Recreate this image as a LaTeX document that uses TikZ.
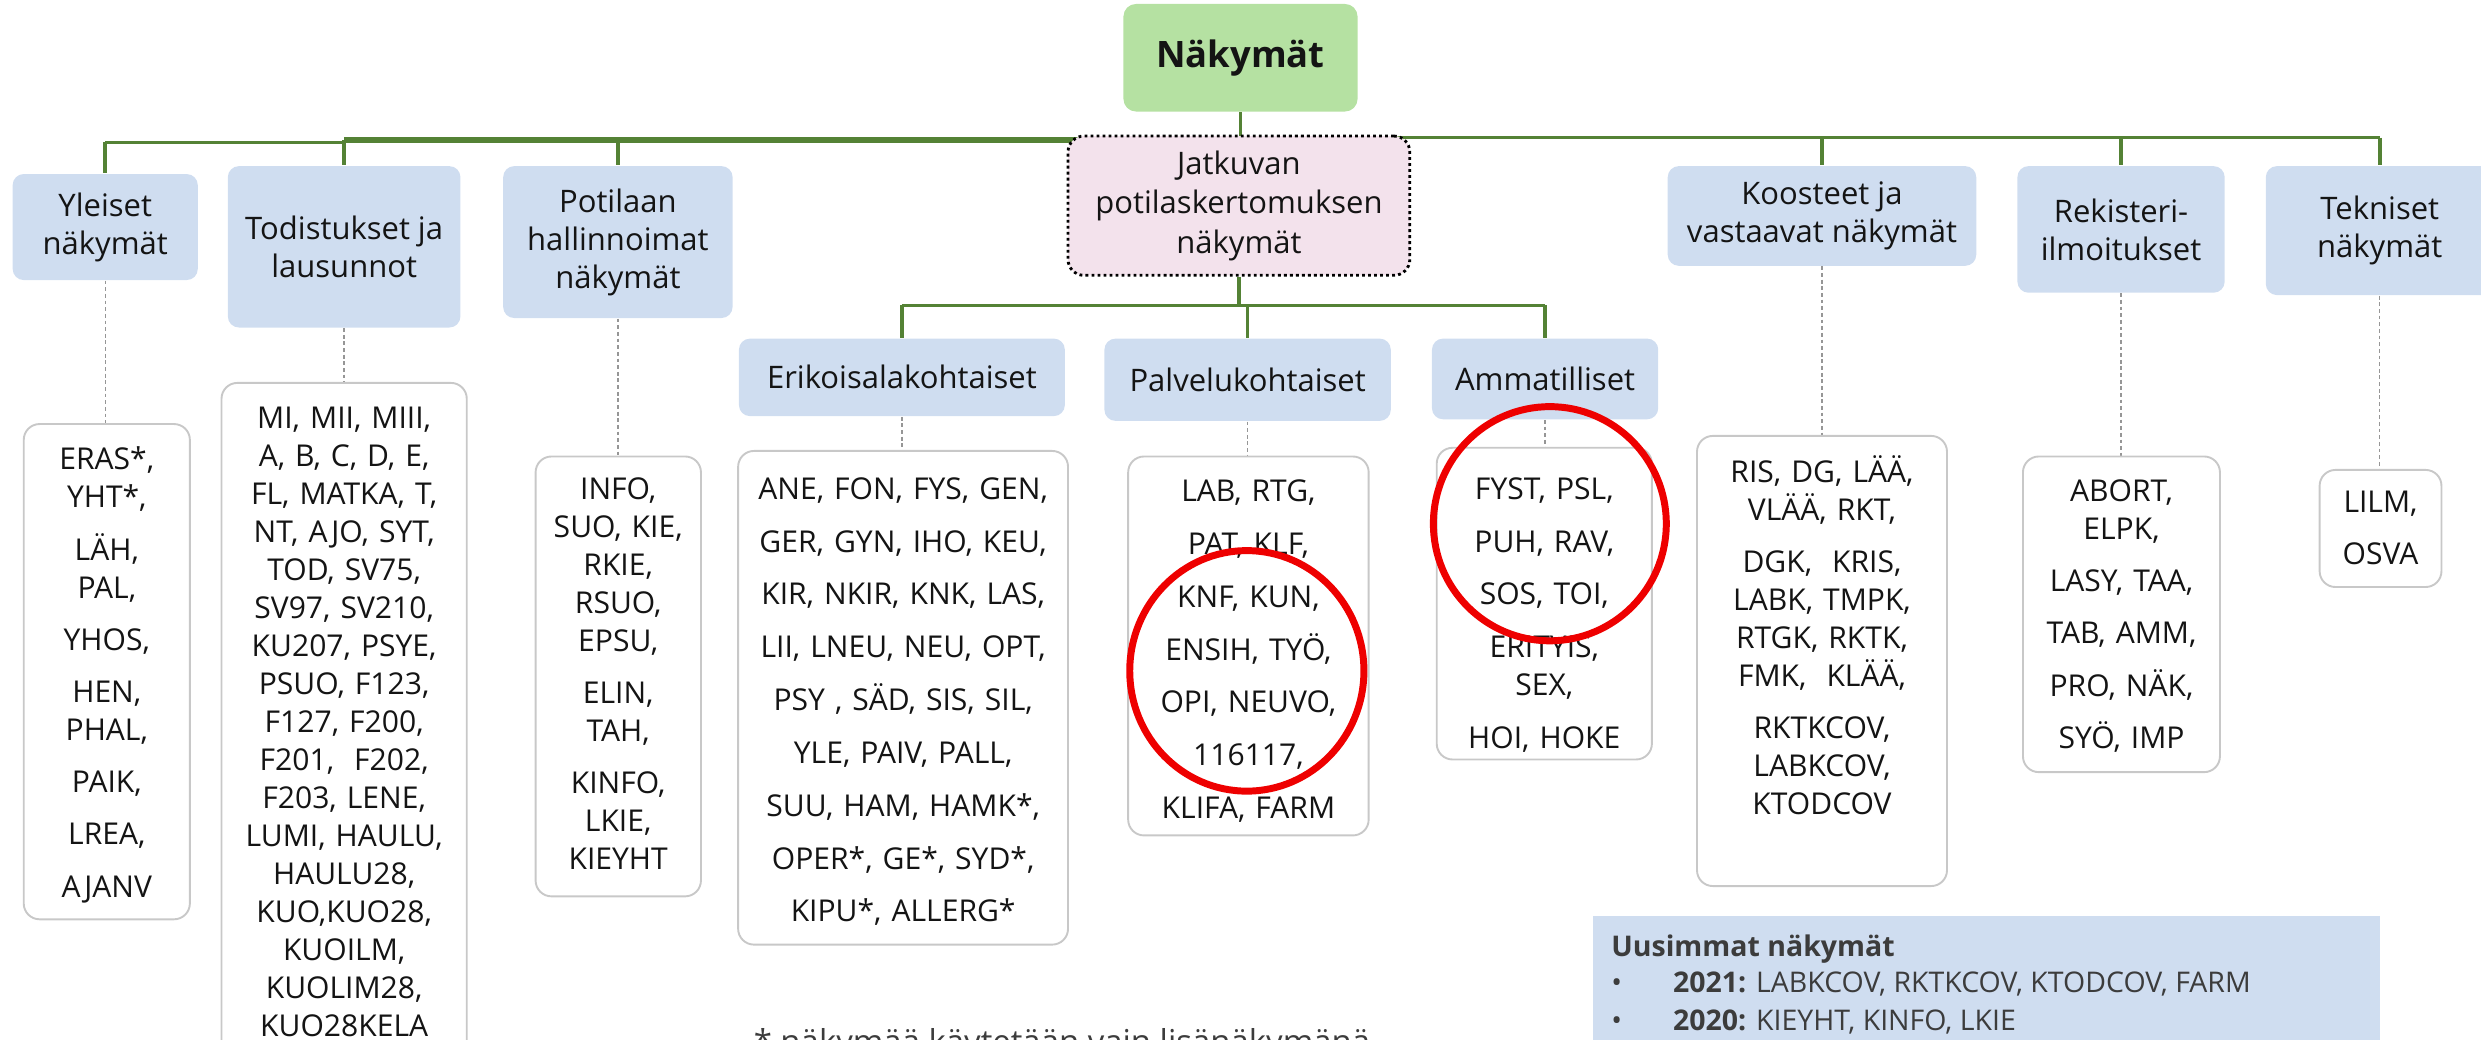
\documentclass[tikz,border=0pt]{standalone}
\usepackage{fontspec}
\setmainfont{Open Sans}
\usetikzlibrary{fit,backgrounds}
\definecolor{gline}{RGB}{84,130,53}
\definecolor{bluefill}{RGB}{207,221,240}
\definecolor{greenfill}{RGB}{181,225,162}
\definecolor{pinkfill}{RGB}{243,226,236}
\definecolor{listborder}{RGB}{200,200,200}
\definecolor{dropgray}{RGB}{150,150,150}
\definecolor{redc}{RGB}{238,0,0}
\definecolor{txt}{RGB}{20,20,20}
\definecolor{txtb}{RGB}{60,60,60}
\newcommand{\lfont}{\fontsize{9.5pt}{12pt}\selectfont}
\newcommand{\wfont}{\fontsize{9.5pt}{16.7pt}\selectfont}
\newcommand{\cfont}{\fontsize{9.8pt}{12pt}\selectfont}
\newcommand{\jfont}{\fontsize{9.8pt}{12.5pt}\selectfont}
\newcommand{\ufont}{\fontsize{9pt}{12pt}\selectfont}
\begin{document}
\begin{tikzpicture}[x=0.5pt,y=-0.5pt,
  gl/.style={draw=gline, line width=1.1pt},
  dropline/.style={draw=dropgray, line width=0.45pt, dash pattern=on 1.2pt off 0.9pt},
  catbox/.style={fill=bluefill, rounded corners=3.5pt, inner sep=0pt, align=center, font=\cfont, text=txt},
  rootbox/.style={fill=greenfill, rounded corners=4pt, inner sep=0pt, font=\fontsize{11.5pt}{14pt}\selectfont\bfseries, text=txt},
  jatbox/.style={fill=pinkfill, draw=black, line width=0.9pt, densely dotted, rounded corners=5pt, inner sep=0pt, align=center, font=\jfont, text=txt},
  listbox/.style={draw=listborder, line width=0.6pt, fill=white, rounded corners=5pt, inner sep=0pt},
  listtext/.style={align=center, font=\lfont, inner sep=0pt, anchor=base, text width=100pt, text=txt},
  redring/.style={draw=redc, line width=2.2pt},
  utext/.style={anchor=base west, inner sep=0pt, font=\ufont, text=txtb}
]
\useasboundingbox (0,0) rectangle (1568,657);
\clip (0,0) rectangle (1568,657);

% top level
\node[rootbox, minimum width=74pt, minimum height=34pt] (root) at (784,36.5) {Näkymät};

\node[catbox, minimum width=58.5pt, minimum height=33.5pt] (yl) at (66.5,143.5) {Yleiset\\näkymät};
\node[catbox, minimum width=73.5pt, minimum height=51pt] (tod) at (217.5,156) {Todistukset ja\\lausunnot};
\node[catbox, minimum width=72.5pt, minimum height=48pt] (pot) at (390.5,153) {Potilaan\\hallinnoimat\\näkymät};
\node[jatbox, minimum width=108pt, minimum height=44pt] (jat) at (783,130) {Jatkuvan\\potilaskertomuksen\\näkymät};
\node[catbox, minimum width=97.5pt, minimum height=31.5pt] (koo) at (1151.5,136.5) {Koosteet ja\\vastaavat näkymät};
\node[catbox, minimum width=65.5pt, minimum height=40pt] (rek) at (1340.5,145) {Rekisteri-\\ilmoitukset};
\node[catbox, minimum width=72pt, minimum height=40.75pt] (tek) at (1504,145.75) {Tekniset\\näkymät};

\node[catbox, minimum width=103pt, minimum height=24.5pt] (eri) at (570,238.5) {Erikoisalakohtaiset};
\node[catbox, minimum width=90.5pt, minimum height=26pt] (pal) at (788.5,240) {Palvelukohtaiset};
\node[catbox, minimum width=71.5pt, minimum height=25.5pt] (amm) at (976.5,239.5) {Ammatilliset};

% list boxes
\node[listbox, fit={(15,268)(120,581)}] (ylL) {};
\node[listbox, fit={(140,242)(295,720)}] (todL) {};
\node[listbox, fit={(338.5,288.5)(443,566.5)}] (potL) {};
\node[listbox, fit={(466.5,285)(675,597)}] (eriL) {};
\node[listbox, fit={(713,288.5)(865,528)}] (palL) {};
\node[listbox, fit={(908,283)(1044,480)}] (ammL) {};
\node[listbox, fit={(1072.5,275.5)(1230.5,560)}] (kooL) {};
\node[listbox, fit={(1278.5,288.5)(1403,488)}] (rekL) {};
\node[listbox, fit={(1466,297)(1543,371)}] (tekL) {};

% list texts
\node[listtext] (ylT) at (67.5,297) {ERAS*,\\YHT*,\\[4.5pt]LÄH,\\PAL,\\[4.5pt]YHOS,\\[4.5pt]HEN,\\PHAL,\\[4.5pt]PAIK,\\[4.5pt]LREA,\\[4.5pt]AJANV};
\node[listtext] (todT) at (217.5,271) {MI, MII, MIII,\\A, B, C, D, E,\\FL, MATKA, T,\\NT, AJO, SYT,\\TOD, SV75,\\SV97, SV210,\\KU207, PSYE,\\PSUO, F123,\\F127, F200,\\F201,~ F202,\\F203, LENE,\\LUMI, HAULU,\\HAULU28,\\KUO,KUO28,\\KUOILM,\\KUOLIM28,\\KUO28KELA};
\node[listtext] (potT) at (390.7,315.5) {INFO,\\SUO, KIE,\\RKIE,\\RSUO,\\EPSU,\\[4.5pt]ELIN,\\TAH,\\[4.5pt]KINFO,\\LKIE,\\KIEYHT};
\node[listtext, font=\wfont, text width=120pt] (eriT) at (570.8,315.5) {ANE, FON, FYS, GEN,\\GER, GYN, IHO, KEU,\\KIR, NKIR, KNK, LAS,\\LII, LNEU, NEU, OPT,\\PSY , SÄD, SIS, SIL,\\YLE, PAIV, PALL,\\SUU, HAM, HAMK*,\\OPER*, GE*, SYD*,\\KIPU*, ALLERG*};
\node[listtext, font=\wfont] (palT) at (789,317) {LAB, RTG,\\PAT, KLF,\\KNF, KUN,\\ENSIH, TYÖ,\\OPI, NEUVO,\\116117,\\KLIFA, FARM};
\node[listtext] (ammT) at (976,315.5) {FYST, PSL,\\[4.7pt]PUH, RAV,\\[4.7pt]SOS, TOI,\\[4.7pt]ERITYIS,\\SEX,\\[4.7pt]HOI, HOKE};
\node[listtext] (kooT) at (1151.5,305) {RIS, DG, LÄÄ,\\VLÄÄ, RKT,\\[4.5pt]DGK,~ KRIS,\\LABK, TMPK,\\RTGK, RKTK,\\FMK,~ KLÄÄ,\\[4.5pt]RKTKCOV,\\LABKCOV,\\KTODCOV};
\node[listtext] (rekT) at (1340.8,317) {ABORT,\\ELPK,\\[4.5pt]LASY, TAA,\\[4.5pt]TAB, AMM,\\[4.5pt]PRO, NÄK,\\[4.5pt]SYÖ, IMP};
\node[listtext] (tekT) at (1504.5,324) {LILM,\\[4.5pt]OSVA};

% newest views box
\node[fill=bluefill, inner sep=0pt, fit={(1007,579)(1504,690)}] (uus) {};
\node[utext, font=\ufont\bfseries] (uusH) at (1018,604.5) {Uusimmat näkymät};
\node[utext] (uus1) at (1018,627.5) {\makebox[19.5pt][l]{\textbullet}\textbf{2021:} LABKCOV, RKTKCOV, KTODCOV, FARM};
\node[utext] (uus2) at (1018,651.5) {\makebox[19.5pt][l]{\textbullet}\textbf{2020:} KIEYHT, KINFO, LKIE};

% footnote (cut by the lower edge, as in the reference)
\node[anchor=base west, inner sep=0pt, font=\fontsize{10.4pt}{12pt}\selectfont, text=txtb] (foot) at (476,666) {* näkymää käytetään vain lisänäkymänä};

% red rings
\draw[redring] (788,424) ellipse [x radius=37pt, y radius=38pt];
\draw[redring] (979.5,331) ellipse [x radius=36.8pt, y radius=37pt];

% connectors
\begin{scope}[on background layer]
\coordinate (busA) at (0,90);
\coordinate (busB) at (0,88.5);
\coordinate (busC) at (0,87);
\coordinate (sbus) at (0,193);
\draw[gl] (root.south) -- (root.south |- busC);
\draw[gl] (root.south |- busC) -- (tek.north |- busC);
\draw[gl, line width=2pt] (tod.north |- busB) -- (root.south |- busB);
\draw[gl] (yl.north |- busA) -- (tod.north |- busA);
\draw[gl] (yl.north |- busA) -- (yl.north);
\draw[gl] (tod.north |- busB) -- (tod.north);
\draw[gl] (pot.north |- busB) -- (pot.north);
\draw[gl] (koo.north |- busC) -- (koo.north);
\draw[gl] (rek.north |- busC) -- (rek.north);
\draw[gl] (tek.north |- busC) -- (tek.north);
\draw[gl] (jat.south) -- (jat.south |- sbus);
\draw[gl] (eri.north |- sbus) -- (amm.north |- sbus);
\draw[gl] (eri.north |- sbus) -- (eri.north);
\draw[gl] (pal.north |- sbus) -- (pal.north);
\draw[gl] (amm.north |- sbus) -- (amm.north);
\draw[dropline] (yl.south) -- (yl.south |- ylL.north);
\draw[dropline] (tod.south) -- (tod.south |- todL.north);
\draw[dropline] (pot.south) -- (pot.south |- potL.north);
\draw[dropline] (eri.south) -- (eri.south |- eriL.north);
\draw[dropline] (pal.south) -- (pal.south |- palL.north);
\draw[dropline] (amm.south) -- (amm.south |- ammL.north);
\draw[dropline] (koo.south) -- (koo.south |- kooL.north);
\draw[dropline] (rek.south) -- (rek.south |- rekL.north);
\draw[dropline] (tek.south) -- (tek.south |- tekL.north);
\end{scope}
\end{tikzpicture}
\end{document}
